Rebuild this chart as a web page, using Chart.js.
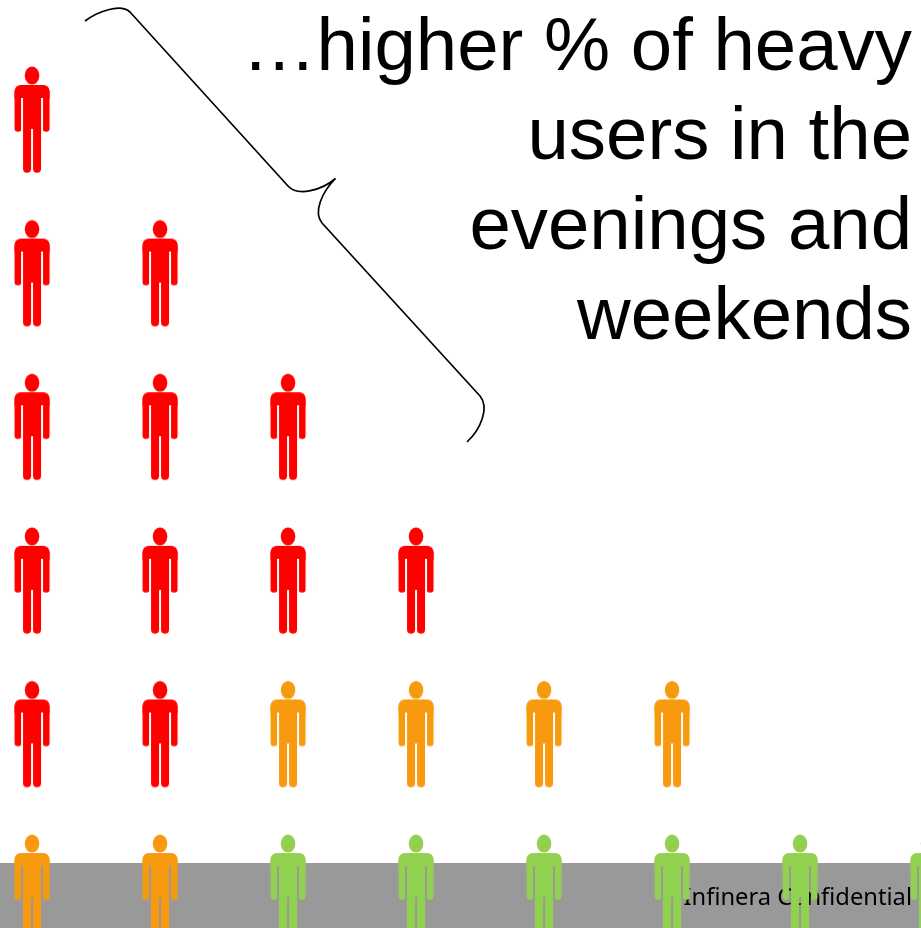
<!DOCTYPE html>
<html>
<head>
<meta charset="utf-8">
<style>html,body{margin:0;padding:0;background:#fff;overflow:hidden}canvas{display:block}</style>
<script src="https://cdn.jsdelivr.net/npm/chart.js@4"></script>
</head>
<body>
<canvas id="c" width="921" height="928"></canvas>
<script>
// Number of people stacked in each column, bottom to top: green, then orange, then red
const columns = [0, 1, 2, 3, 4, 5, 6, 7];
const greenCounts  = [0, 0, 1, 1, 1, 1, 1, 1];
const orangeCounts = [1, 1, 1, 1, 1, 1, 0, 0];
const redCounts    = [5, 4, 2, 1, 0, 0, 0, 0];
const calloutLines = ['…higher % of heavy', 'users in the', 'evenings and', 'weekends'];
const footerText = 'Infinera Confidential';

function person(color) {
  const c = document.createElement('canvas');
  c.width = 40; c.height = 112;
  const g = c.getContext('2d');
  g.fillStyle = color;
  g.translate(0, -1);
  const rr = (x, y, w, h, r) => { g.beginPath(); g.roundRect(x, y, w, h, r); g.fill(); };
  g.beginPath(); g.ellipse(20, 12.6, 7.3, 9, 0, 0, Math.PI * 2); g.fill();
  // torso
  rr(2.5, 22, 35, 14, [6, 6, 0, 0]);
  g.fillRect(11, 30, 18, 36);
  // arms
  rr(2.5, 28, 6.8, 40.7, [0, 0, 3.2, 3.2]);
  rr(30.7, 28, 6.8, 40.7, [0, 0, 3.2, 3.2]);
  // gaps between arms and torso
  g.clearRect(9.3, 34.7, 1.4, 35);
  g.clearRect(29.3, 34.7, 1.4, 35);
  // legs
  rr(11, 60, 8, 49.7, [0, 0, 3.9, 3.9]);
  rr(21, 60, 8, 49.7, [0, 0, 3.9, 3.9]);
  return c;
}

function stack(counts, offsets) {
  const pts = [];
  counts.forEach((n, i) => {
    for (let k = 0; k < n; k++) pts.push({ x: columns[i], y: offsets[i] + k });
  });
  return pts;
}
const orangeBase = greenCounts;
const redBase = greenCounts.map((g, i) => g + orangeCounts[i]);
const zero = greenCounts.map(() => 0);

const backdrop = {
  id: 'backdrop',
  beforeDatasetsDraw(chart) {
    const g = chart.ctx, w = chart.width, h = chart.height;
    g.save();
    g.fillStyle = '#999999';
    g.fillRect(0, 863, w, h - 863);
    g.fillStyle = '#000';
    g.textAlign = 'right';
    g.textBaseline = 'alphabetic';
    g.font = '23.7px "Noto Sans"';
    g.fillText(footerText, 912, 905);
    g.font = '74.4px "Liberation Sans"';
    calloutLines.forEach((t, i) => g.fillText(t, 912, 69.5 + i * 89.7));
    // brace
    g.strokeStyle = '#000';
    g.lineWidth = 1.7;
    g.beginPath();
    g.moveTo(85, 21);
    g.bezierCurveTo(97, 12, 120, 3, 130, 12);
    g.lineTo(288, 186);
    g.bezierCurveTo(298, 197, 322, 190, 335.5, 178.5);
    g.bezierCurveTo(322, 192, 313, 212, 322, 223);
    g.lineTo(480, 396);
    g.bezierCurveTo(490, 408, 480, 430, 467, 442);
    g.stroke();
    g.restore();
  }
};

new Chart(document.getElementById('c'), {
  type: 'scatter',
  data: {
    datasets: [
      { label: 'Green', data: stack(greenCounts, zero), pointStyle: person('#92D050'), pointRadius: 40, clip: false },
      { label: 'Orange', data: stack(orangeCounts, orangeBase), pointStyle: person('#F79A10'), pointRadius: 40, clip: false },
      { label: 'Red', data: stack(redCounts, redBase), pointStyle: person('#FF0000'), pointRadius: 40, clip: false }
    ]
  },
  options: {
    responsive: false,
    animation: false,
    layout: { padding: 0, autoPadding: false },
    plugins: { legend: { display: false }, tooltip: { enabled: false }, title: { display: false } },
    scales: {
      x: { type: 'linear', display: false, min: -0.25, max: 6.945 },
      y: { type: 'linear', display: false, min: -0.26, max: 5.781 }
    }
  },
  plugins: [backdrop]
});
</script>
</body>
</html>
